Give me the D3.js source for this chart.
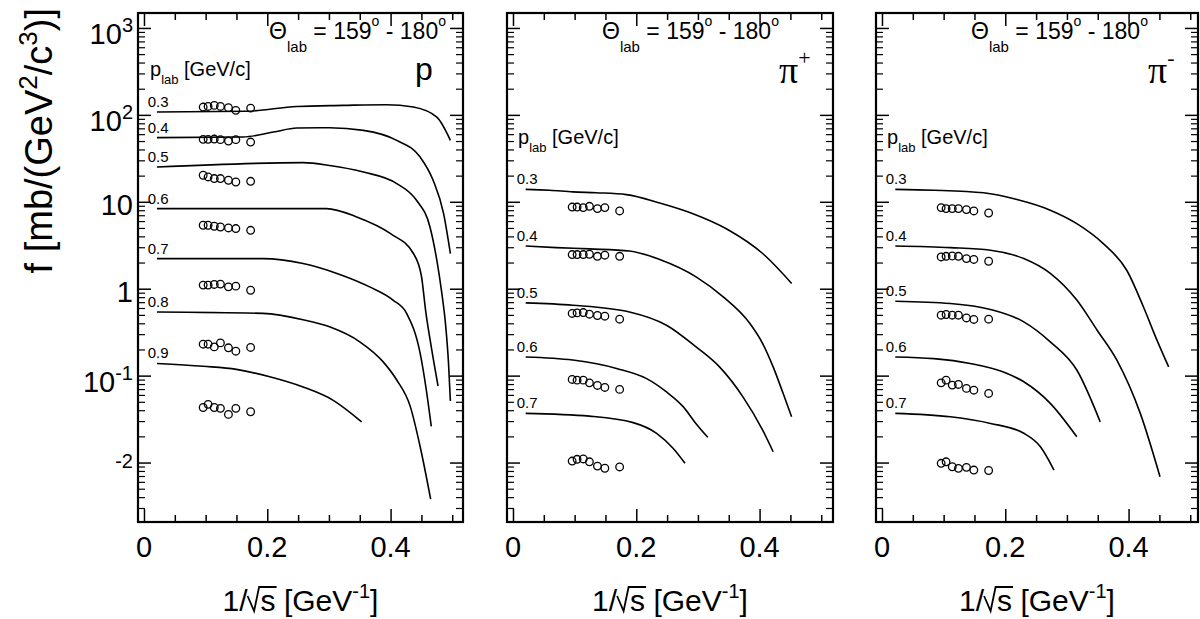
<!DOCTYPE html>
<html><head><meta charset="utf-8">
<script src="https://cdn.jsdelivr.net/npm/d3@7"></script>
<style>
body{margin:0;background:#fff}
svg{display:block}
text{font-family:"Liberation Sans",Arial,Helvetica,sans-serif;white-space:pre;fill:#000}
</style>
</head><body>
<svg id="c" width="1200" height="619"></svg>
<script>
// ---------------- data ----------------
const xMajorTicks = [0, 0.2, 0.4];
const xMinorTicks = [0.05, 0.1, 0.15, 0.25, 0.3, 0.35, 0.45, 0.5];
const xTickLabels = ["0", "0.2", "0.4"];
const yTickValues = [1000, 100, 10, 1, 0.1, 0.01];
const yTickMain = ["10", "10", "10", "1", "10", ""];
const yTickSup = ["3", "2", "", "", "-1", "-2"];

// 1/sqrt(s) of the measured points (same in every panel)
const dataX = [0.096, 0.104, 0.114, 0.124, 0.137, 0.149, 0.173];

// ----- proton panel -----
const protonMomenta = ["0.3", "0.4", "0.5", "0.6", "0.7", "0.8", "0.9"];
const protonLines = [
  [[0.021,108],[0.166,110],[0.248,125],[0.323,128.6],[0.393,131],[0.437,123],[0.475,94],[0.497,51]],
  [[0.021,54.7],[0.161,55.6],[0.21,63.4],[0.248,70.5],[0.301,71],[0.356,66.3],[0.41,50.9],[0.448,32.7],[0.469,17.7],[0.486,7.3],[0.497,2.54]],
  [[0.021,25.1],[0.258,28.2],[0.301,26.2],[0.356,22],[0.41,16.2],[0.442,10.4],[0.464,5.1],[0.475,2.13],[0.483,0.9],[0.489,0.4],[0.494,0.138],[0.497,0.051]],
  [[0.021,8.35],[0.296,8.35],[0.345,6.7],[0.4,4.3],[0.437,2.54],[0.45,1.4],[0.457,0.55],[0.466,0.214],[0.477,0.076]],
  [[0.021,2.22],[0.193,2.22],[0.258,1.95],[0.313,1.5],[0.366,1.05],[0.404,0.74],[0.426,0.52],[0.448,0.18],[0.458,0.068],[0.466,0.026]],
  [[0.021,0.54],[0.193,0.52],[0.258,0.44],[0.301,0.364],[0.35,0.245],[0.388,0.144],[0.41,0.089],[0.432,0.044],[0.448,0.0152],[0.465,0.0038]],
  [[0.021,0.138],[0.096,0.128],[0.15,0.118],[0.204,0.097],[0.258,0.074],[0.307,0.052],[0.353,0.0294]]
];
const protonPoints = [
  [123, 125, 128.6, 125, 121, 112.7, 119.7],
  [52.3, 52.3, 52.7, 51.9, 50, 51.9, 48.7],
  [20.2, 19.3, 18.5, 18.5, 17.7, 16.9, 17.2],
  [5.37, 5.37, 5.23, 5.13, 5.0, 4.92, 4.7],
  [1.1, 1.1, 1.12, 1.13, 1.05, 1.07, 0.96],
  [0.23, 0.23, 0.214, 0.238, 0.209, 0.191, 0.211],
  [0.043, 0.0467, 0.043, 0.042, 0.0358, 0.042, 0.0384]
];

// ----- pi+ panel -----
const pionMomenta = ["0.3", "0.4", "0.5", "0.6", "0.7"];
const piPlusLines = [
  [[0.0206,13.9],[0.0595,13.6],[0.097,13],[0.135,12.7],[0.184,12.1],[0.238,9.7],[0.292,7.3],[0.346,4.9],[0.405,2.54],[0.452,1.15]],
  [[0.0206,3.1],[0.07,2.97],[0.124,2.87],[0.189,2.72],[0.238,2.17],[0.297,1.37],[0.341,0.805],[0.384,0.4],[0.405,0.234],[0.422,0.126],[0.438,0.063],[0.452,0.0336]],
  [[0.0206,0.687],[0.097,0.646],[0.189,0.54],[0.249,0.38],[0.297,0.214],[0.335,0.126],[0.373,0.057],[0.405,0.0236],[0.422,0.0133]],
  [[0.0206,0.164],[0.097,0.151],[0.168,0.121],[0.216,0.093],[0.249,0.065],[0.276,0.044],[0.297,0.028],[0.316,0.0195]],
  [[0.0206,0.0368],[0.124,0.0342],[0.195,0.0288],[0.233,0.0217],[0.26,0.0145],[0.279,0.0098]]
];
const piPlusPoints = [
  [8.7, 8.7, 8.57, 8.87, 8.35, 8.57, 7.84],
  [2.47, 2.47, 2.47, 2.49, 2.36, 2.43, 2.36],
  [0.519, 0.527, 0.532, 0.509, 0.492, 0.483, 0.446],
  [0.0904, 0.0887, 0.0887, 0.0826, 0.0771, 0.0731, 0.0694],
  [0.0104, 0.0109, 0.011, 0.0102, 0.0091, 0.0086, 0.0089]
];

// ----- pi- panel -----
const piMinusLines = [
  [[0.0216,13.9],[0.084,13.6],[0.165,12.7],[0.219,10.6],[0.273,8.0],[0.316,5.6],[0.359,3.3],[0.397,1.63],[0.424,0.62],[0.446,0.256],[0.465,0.126]],
  [[0.0216,3.1],[0.111,2.97],[0.176,2.77],[0.23,2.22],[0.273,1.5],[0.316,0.74],[0.349,0.333],[0.381,0.151],[0.419,0.0368],[0.451,0.00687]],
  [[0.0216,0.718],[0.111,0.676],[0.176,0.577],[0.23,0.416],[0.273,0.245],[0.316,0.116],[0.354,0.0294]],
  [[0.0216,0.164],[0.084,0.157],[0.143,0.138],[0.197,0.11],[0.23,0.085],[0.273,0.048],[0.316,0.0198]],
  [[0.0216,0.0368],[0.111,0.0336],[0.176,0.0282],[0.23,0.0217],[0.257,0.0152],[0.279,0.0082]]
];
const piMinusPoints = [
  [8.57, 8.35, 8.35, 8.35, 8.13, 7.84, 7.43],
  [2.32, 2.36, 2.38, 2.36, 2.22, 2.17, 2.07],
  [0.496, 0.505, 0.496, 0.496, 0.461, 0.443, 0.446],
  [0.0826, 0.0887, 0.0778, 0.0792, 0.0713, 0.068, 0.0624],
  [0.0098, 0.0102, 0.00895, 0.00857, 0.0088, 0.0082, 0.0081]
];

const panelNames = ["p", "π", "π"];
const panelCharges = ["", "+", "-"];

// ---------------- layout ----------------
const panelLeft = [138, 507, 876];
const panelRight = [463, 833, 1198];
const frameTop = 13, frameBottom = 522;
const xMin = -0.0097, pxPerUnit = 616.5;

const svg = d3.select("#c");
const y = d3.scaleLog().domain([0.00207, 1486]).range([frameBottom, frameTop]);

const yMinor = [];
for (let n = -3; n <= 3; n++) for (let k = 2; k <= 9; k++) {
  const v = k * Math.pow(10, n);
  if (v > y.domain()[0] && v < y.domain()[1]) yMinor.push(v);
}

function rich(parent, x, yy, parts, anchor, family) {
  const t = parent.append("text").attr("x", x).attr("y", yy).attr("text-anchor", anchor || "start");
  if (family) t.style("font-family", family);
  let prev = 0;
  parts.forEach(p => {
    const s = p.s || 0;
    const ts = t.append("tspan").attr("dy", s - prev).attr("font-size", p.size).text(p.t);
    if (p.family) ts.style("font-family", p.family);
    prev = s;
  });
  return t;
}

function styleAxis(sel, w) {
  sel.select(".domain").remove();
  sel.selectAll(".tick line").attr("stroke", "#000").attr("stroke-width", w);
  sel.selectAll(".tick text").remove();
}

function drawPanel(i, lines, momenta, points) {
  const L = panelLeft[i], R = panelRight[i];
  const x = d3.scaleLinear().domain([xMin, xMin + (R - L) / pxPerUnit]).range([L, R]);
  const g = svg.append("g");

  // ticks (inward on all four sides)
  g.append("g").attr("transform", `translate(0,${frameBottom})`)
    .call(d3.axisBottom(x).tickValues(xMajorTicks).tickSize(-13)).call(s => styleAxis(s, 1.5));
  g.append("g").attr("transform", `translate(0,${frameBottom})`)
    .call(d3.axisBottom(x).tickValues(xMinorTicks).tickSize(-7)).call(s => styleAxis(s, 1.5));
  g.append("g").attr("transform", `translate(0,${frameTop})`)
    .call(d3.axisTop(x).tickValues(xMajorTicks).tickSize(-13)).call(s => styleAxis(s, 1.5));
  g.append("g").attr("transform", `translate(0,${frameTop})`)
    .call(d3.axisTop(x).tickValues(xMinorTicks).tickSize(-7)).call(s => styleAxis(s, 1.5));
  g.append("g").attr("transform", `translate(${L},0)`)
    .call(d3.axisLeft(y).tickValues(yTickValues).tickSize(-13)).call(s => styleAxis(s, 1.5));
  g.append("g").attr("transform", `translate(${L},0)`)
    .call(d3.axisLeft(y).tickValues(yMinor).tickSize(-7)).call(s => styleAxis(s, 1.2));
  g.append("g").attr("transform", `translate(${R},0)`)
    .call(d3.axisRight(y).tickValues(yTickValues).tickSize(-13)).call(s => styleAxis(s, 1.5));
  g.append("g").attr("transform", `translate(${R},0)`)
    .call(d3.axisRight(y).tickValues(yMinor).tickSize(-7)).call(s => styleAxis(s, 1.2));

  // frame
  g.append("rect").attr("x", L).attr("y", frameTop).attr("width", R - L).attr("height", frameBottom - frameTop)
    .attr("fill", "none").attr("stroke", "#000").attr("stroke-width", 2.2);

  // x tick labels
  xMajorTicks.forEach((v, k) => {
    g.append("text").attr("x", x(v)).attr("y", 557).attr("text-anchor", "middle")
      .attr("font-size", 29).text(xTickLabels[k]);
  });

  // curves
  const line = d3.line().x(d => x(d[0])).y(d => y(d[1])).curve(d3.curveMonotoneX);
  lines.forEach((ln, k) => {
    g.append("path").attr("d", line(ln)).attr("fill", "none").attr("stroke", "#000").attr("stroke-width", 1.6);
    g.append("text").attr("x", x(0.006)).attr("y", y(ln[0][1]) - 5).attr("font-size", 15)
      .attr("fill", "#222").text(momenta[k]);
  });

  // data points
  points.forEach(row => {
    row.forEach((v, j) => {
      g.append("circle").attr("cx", x(dataX[j])).attr("cy", y(v)).attr("r", 3.8)
        .attr("fill", "none").attr("stroke", "#000").attr("stroke-width", 1.3);
    });
  });

  // title Theta_lab
  const titleParts = [
    {t: "Θ", size: 23}, {t: "lab", size: 15, s: 13}, {t: " = 159", size: 23, s: 0},
    {t: "o", size: 14, s: -13}, {t: " - 180", size: 23, s: 0}, {t: "o", size: 14, s: -13}
  ];
  if (i === 0) rich(g, R - 17, 39, titleParts, "end");
  else rich(g, L + 95, 39, titleParts, "start");

  // p_lab label
  rich(g, L + (i === 0 ? 12 : 11), i === 0 ? 76 : 144, [
    {t: "p", size: 20}, {t: "lab", size: 13, s: 8}, {t: " [GeV/c]", size: 20, s: 0}
  ]);

  // particle label
  if (i === 0) {
    g.append("text").attr("x", L + 277).attr("y", 80).attr("font-size", 32).text(panelNames[i]);
  } else {
    rich(g, L + 272, 83, [
      {t: panelNames[i], size: 38}, {t: panelCharges[i], size: 22, s: -18}
    ], "start", "'Liberation Serif','Times New Roman',serif");
  }

  // x axis title 1/sqrt(s) [GeV^-1]
  const cx = (L + R) / 2;
  const fs = 30;
  const xt = g.append("text").attr("x", cx).attr("y", 611).attr("text-anchor", "middle").attr("font-size", fs);
  xt.append("tspan").text("1/");
  xt.append("tspan").attr("dx", 13).text("s");
  xt.append("tspan").text(" [GeV");
  xt.append("tspan").attr("dy", -13).attr("font-size", 20).text("-1");
  xt.append("tspan").attr("dy", 13).text("]");
  const e = xt.node().getExtentOfChar(2);
  const b = 611;
  const sx = e.x;
  g.append("path")
    .attr("d", `M${sx - 13},${b - 0.5 * fs} L${sx - 6.5},${b} L${sx - 1.5},${b - 0.8 * fs} L${sx + e.width + 1},${b - 0.8 * fs}`)
    .attr("fill", "none").attr("stroke", "#000").attr("stroke-width", 1.8);
}

drawPanel(0, protonLines, protonMomenta, protonPoints);
drawPanel(1, piPlusLines, pionMomenta, piPlusPoints);
drawPanel(2, piMinusLines, pionMomenta, piMinusPoints);

// y tick labels (left panel only)
yTickValues.forEach((v, k) => {
  const yy = y(v);
  if (yTickSup[k] === "") {
    svg.append("text").attr("x", 133).attr("y", yy + 13).attr("text-anchor", "end").attr("font-size", 29).text(yTickMain[k]);
  } else if (yTickMain[k] === "") {
    svg.append("text").attr("x", 133).attr("y", yy + 5).attr("text-anchor", "end").attr("font-size", 20).text(yTickSup[k]);
  } else {
    rich(svg, 133, yy + 16, [{t: yTickMain[k], size: 29}, {t: yTickSup[k], size: 20, s: -12}], "end");
  }
});

// y axis title
const yg = svg.append("g").attr("transform", "translate(52,8) rotate(-90)");
rich(yg, 0, 0, [
  {t: "f [mb/(GeV", size: 38}, {t: "2", size: 26, s: -15}, {t: "/c", size: 38, s: 0},
  {t: "3", size: 26, s: -15}, {t: ")]", size: 38, s: 0}
], "end");
</script>
</body></html>
